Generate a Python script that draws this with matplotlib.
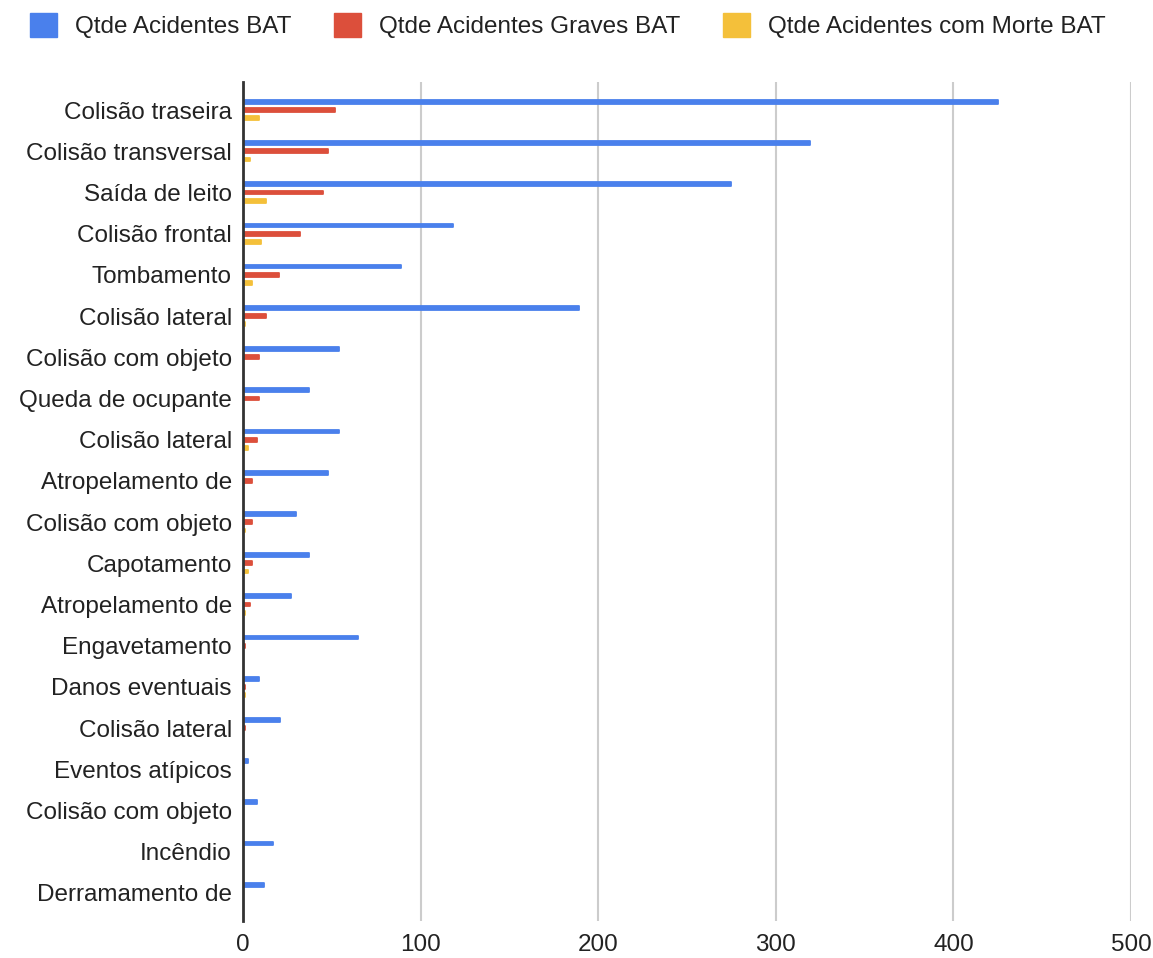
import matplotlib
matplotlib.use("Agg")
import matplotlib.pyplot as plt
import numpy as np

plt.rcParams['font.family'] = ['Liberation Sans', 'DejaVu Sans']

# categories top to bottom
categorias = ["Colisão traseira", "Colisão transversal", "Saída de leito", "Colisão frontal",
              "Tombamento", "Colisão lateral", "Colisão com objeto", "Queda de ocupante",
              "Colisão lateral", "Atropelamento de", "Colisão com objeto", "Capotamento",
              "Atropelamento de", "Engavetamento", "Danos eventuais", "Colisão lateral",
              "Eventos atípicos", "Colisão com objeto", "Incêndio", "Derramamento de"]

acidentes = [425, 319, 275, 118, 89, 189, 54, 37, 54, 48, 30, 37, 27, 65, 9, 21, 3, 8, 17, 12]
graves = [52, 48, 45, 32, 20, 13, 9, 9, 8, 5, 5, 5, 4, 1, 1, 1, 0, 0, 0, 0]
mortes = [9, 4, 13, 10, 5, 1, 0, 0, 3, 0, 1, 3, 1, 0, 1, 0, 0, 0, 0, 0]

series_names = ["Qtde Acidentes BAT", "Qtde Acidentes Graves BAT", "Qtde Acidentes com Morte BAT"]
colors = ["#4a80ec", "#dc4f3b", "#f4c03a"]

fig = plt.figure(figsize=(11.53, 9.58), dpi=100)
ax = fig.add_axes([0.2108, 0.0386, 0.7702, 0.8758])

y = np.arange(len(categorias))
h = 0.09
off = 0.2
for i, (vals, c, name) in enumerate(zip([acidentes, graves, mortes], colors, series_names)):
    bars = ax.barh(y + (i - 1) * off, vals, height=h, color=c, label=name, zorder=3)
    for b, v in zip(bars, vals):
        if v > 0:
            b.set_edgecolor(c)
            b.set_linewidth(1.3)
            b.set_joinstyle('round')

ax.set_ylim(len(categorias) - 1 + 0.68, -0.68)
ax.set_xlim(0, 500)
ax.set_yticks(y)
ax.set_yticklabels(categorias, fontsize=17.5, color="#222222")
ax.set_xticks([0, 100, 200, 300, 400, 500])
ax.tick_params(axis='x', labelsize=17.5, colors="#222222", length=0, pad=9)
ax.tick_params(axis='y', length=0, pad=8)
ax.grid(axis='x', color="#cccccc", linewidth=1.5, zorder=0)
for s in ['top', 'right', 'bottom']:
    ax.spines[s].set_visible(False)
ax.spines['left'].set_color("#333333")
ax.spines['left'].set_linewidth(2)
ax.spines['left'].set_zorder(4)

handles = [plt.Rectangle((0, 0), 1, 1, color=c) for c in colors]
fig.legend(handles, series_names, loc='center', bbox_to_anchor=(0.4926, 0.973), ncol=3,
           frameon=False, fontsize=17.5, handlelength=1.1, handleheight=1.1,
           columnspacing=1.75, handletextpad=0.75, labelcolor="#222222")

fig.savefig("out.png", dpi=100, facecolor="white")
